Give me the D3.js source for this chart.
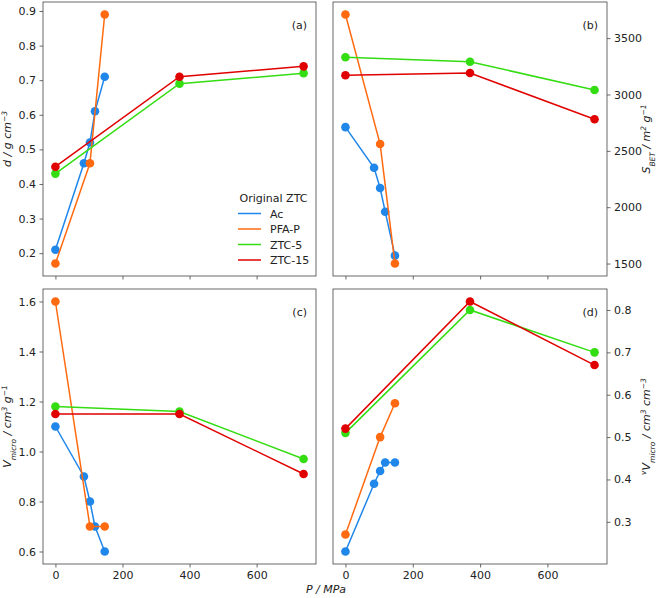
<!DOCTYPE html>
<html>
<head>
<meta charset="utf-8">
<script src="https://cdn.jsdelivr.net/npm/d3@7"></script>
<style>
  html, body { margin: 0; padding: 0; background: #fff; }
  svg { display: block; font-family: "DejaVu Sans", sans-serif; }
</style>
</head>
<body>
<div id="chart"></div>
<script>
// ---- Data ----
const seriesNames = ["Ac", "PFA-P", "ZTC-5", "ZTC-15"];
const seriesColors = ["#1f86ea", "#ff6a10", "#33dd11", "#e00000"];

const pressureAc  = [0, 85, 103, 118, 147];
const pressurePFA = [0, 103, 147];
const pressureZTC = [0, 370, 740];

// (a) density d / g cm^-3
const densAc   = [0.21, 0.46, 0.52, 0.61, 0.71];
const densPFA  = [0.17, 0.46, 0.89];
const densZTC5 = [0.43, 0.69, 0.72];
const densZTC15= [0.45, 0.71, 0.74];

// (b) S_BET / m2 g^-1
const sbetAc   = [2710, 2350, 2170, 1960, 1570];
const sbetPFA  = [3710, 2560, 1500];
const sbetZTC5 = [3330, 3290, 3040];
const sbetZTC15= [3170, 3190, 2780];

// (c) V_micro / cm3 g^-1
const vmAc   = [1.10, 0.90, 0.80, 0.70, 0.60];
const vmPFA  = [1.60, 0.70, 0.70];
const vmZTC5 = [1.18, 1.16, 0.97];
const vmZTC15= [1.15, 1.15, 0.91];

// (d) vV_micro / cm3 cm^-3
const vvAc   = [0.23, 0.39, 0.42, 0.44, 0.44];
const vvPFA  = [0.27, 0.50, 0.58];
const vvZTC5 = [0.51, 0.80, 0.70];
const vvZTC15= [0.52, 0.82, 0.67];

const xTicks = [0, 200, 400, 600];
const ticksA = [0.2, 0.3, 0.4, 0.5, 0.6, 0.7, 0.8, 0.9];
const ticksB = [1500, 2000, 2500, 3000, 3500];
const ticksC = [0.6, 0.8, 1.0, 1.2, 1.4, 1.6];
const ticksD = [0.3, 0.4, 0.5, 0.6, 0.7, 0.8];

// ---- Layout ----
const W = 660, H = 598;
const svg = d3.select("#chart").append("svg").attr("width", W).attr("height", H);

const frameColor = "#444";
const textColor = "#222";
const fs = 11;

function mk(xs, ys) { return xs.map((x, i) => ({x, y: ys[i]})); }

const panels = [
  {box: [43, 2, 316, 276], side: "left", label: "(a)", ticks: ticksA, fmt: d3.format(".1f"), xlabels: false,
   data: [mk(pressureAc, densAc), mk(pressurePFA, densPFA), mk(pressureZTC, densZTC5), mk(pressureZTC, densZTC15)],
   ylab: [{t: "d / g cm", i: true}, {t: "−3", sup: true}]},
  {box: [333, 2, 607, 276], side: "right", label: "(b)", ticks: ticksB, fmt: d3.format("d"), xlabels: false,
   data: [mk(pressureAc, sbetAc), mk(pressurePFA, sbetPFA), mk(pressureZTC, sbetZTC5), mk(pressureZTC, sbetZTC15)],
   ylab: [{t: "S", i: true}, {t: "BET", sub: true}, {t: " / m", i: true}, {t: "2", sup: true}, {t: " g", i: true}, {t: "−1", sup: true}]},
  {box: [43, 289, 316, 564], side: "left", label: "(c)", ticks: ticksC, fmt: d3.format(".1f"), xlabels: true,
   data: [mk(pressureAc, vmAc), mk(pressurePFA, vmPFA), mk(pressureZTC, vmZTC5), mk(pressureZTC, vmZTC15)],
   ylab: [{t: "V", i: true}, {t: "micro", sub: true}, {t: " / cm", i: true}, {t: "3", sup: true}, {t: " g", i: true}, {t: "−1", sup: true}]},
  {box: [333, 289, 607, 564], side: "right", label: "(d)", ticks: ticksD, fmt: d3.format(".1f"), xlabels: true,
   data: [mk(pressureAc, vvAc), mk(pressurePFA, vvPFA), mk(pressureZTC, vvZTC5), mk(pressureZTC, vvZTC15)],
   ylab: [{t: "v", sup: true}, {t: "V", i: true}, {t: "micro", sub: true}, {t: " / cm", i: true}, {t: "3", sup: true}, {t: " cm", i: true}, {t: "−3", sup: true}]}
];

function padDomain(vals) {
  const mn = d3.min(vals), mx = d3.max(vals), m = (mx - mn) * 0.05;
  return [mn - m, mx + m];
}

const allX = pressureAc.concat(pressurePFA, pressureZTC);
const xDomain = padDomain(allX);

panels.forEach(p => {
  const [x0, y0, x1, y1] = p.box;
  const g = svg.append("g");
  const x = d3.scaleLinear().domain(xDomain).range([x0, x1]);
  const allY = p.data.flat().map(d => d.y);
  const y = d3.scaleLinear().domain(padDomain(allY)).range([y1, y0]);

  // clip
  const cid = "clip" + p.label.replace(/[()]/g, "");
  svg.append("clipPath").attr("id", cid).append("rect")
    .attr("x", x0).attr("y", y0).attr("width", x1 - x0).attr("height", y1 - y0);

  // x axis
  const xAxis = d3.axisBottom(x).tickValues(xTicks).tickSize(3.5).tickPadding(3.5)
    .tickFormat(p.xlabels ? d3.format("d") : "");
  const gx = g.append("g").attr("transform", `translate(0,${y1})`).call(xAxis);
  gx.select(".domain").remove();
  gx.selectAll("line").attr("stroke", frameColor).attr("stroke-width", 0.8);
  gx.selectAll("text").attr("fill", textColor).style("font-size", fs + "px").style("font-family", "DejaVu Sans");

  // y axis
  const yAxis = (p.side === "left" ? d3.axisLeft(y) : d3.axisRight(y))
    .tickValues(p.ticks).tickSize(3.5).tickPadding(3.5).tickFormat(p.fmt);
  const gy = g.append("g").attr("transform", `translate(${p.side === "left" ? x0 : x1},0)`).call(yAxis);
  gy.select(".domain").remove();
  gy.selectAll("line").attr("stroke", frameColor).attr("stroke-width", 0.8);
  gy.selectAll("text").attr("fill", textColor).style("font-size", fs + "px").style("font-family", "DejaVu Sans");

  // series
  const line = d3.line().x(d => x(d.x)).y(d => y(d.y));
  const sg = g.append("g").attr("clip-path", `url(#${cid})`);
  p.data.forEach((s, i) => {
    const ss = sg.append("g");
    ss.append("path").datum(s).attr("d", line).attr("fill", "none")
      .attr("stroke", seriesColors[i]).attr("stroke-width", 1.5);
    ss.selectAll("circle").data(s).enter().append("circle")
      .attr("cx", d => x(d.x)).attr("cy", d => y(d.y)).attr("r", 4.3)
      .attr("fill", seriesColors[i]);
  });

  // frame
  g.append("rect").attr("x", x0).attr("y", y0).attr("width", x1 - x0).attr("height", y1 - y0)
    .attr("fill", "none").attr("stroke", frameColor).attr("stroke-width", 0.8);

  // panel label
  g.append("text").attr("x", x1 - 9).attr("y", y0 + 27).attr("text-anchor", "end")
    .attr("fill", textColor).style("font-size", fs + "px").text(p.label);

  // y label
  const lx = p.side === "left" ? 11 : 650;
  const ly = (y0 + y1) / 2;
  const t = g.append("text").attr("transform", `translate(${lx},${ly}) rotate(-90)`)
    .attr("text-anchor", "middle").attr("fill", textColor).style("font-size", fs + "px");
  p.ylab.forEach(part => {
    const ts = t.append("tspan").text(part.t);
    if (part.sup) ts.attr("baseline-shift", "super").style("font-size", "7.5px").style("font-style", "italic");
    else if (part.sub) ts.attr("baseline-shift", "sub").style("font-size", "7.5px").style("font-style", "italic");
    else ts.style("font-style", "italic");
  });
});

// x label
svg.append("text").attr("x", 326).attr("y", 593).attr("text-anchor", "middle")
  .attr("fill", textColor).style("font-size", fs + "px").style("font-style", "italic").text("P / MPa");

// legend in panel (a)
const lg = svg.append("g");
lg.append("text").attr("x", 273.5).attr("y", 201.5).attr("text-anchor", "middle")
  .attr("fill", textColor).style("font-size", fs + "px").text("Original ZTC");
seriesNames.forEach((n, i) => {
  const cy = 213.5 + i * 15.5;
  lg.append("line").attr("x1", 238).attr("x2", 261).attr("y1", cy).attr("y2", cy)
    .attr("stroke", seriesColors[i]).attr("stroke-width", 1.5);
  lg.append("text").attr("x", 270).attr("y", cy + 4).attr("fill", textColor)
    .style("font-size", fs + "px").text(n);
});
</script>
</body>
</html>
